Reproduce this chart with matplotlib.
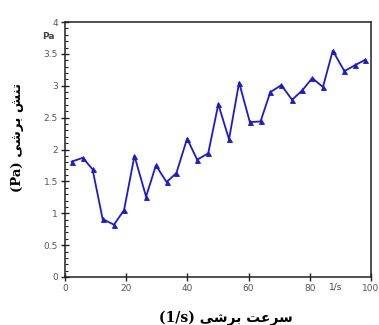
import matplotlib
matplotlib.use("Agg")
import matplotlib.pyplot as plt
from matplotlib.ticker import MultipleLocator

# Data
shear_rate = [2.2, 5.8, 9.0, 12.3, 16.0, 19.3, 22.7, 26.5, 29.7, 33.2, 36.4,
              39.9, 43.2, 46.8, 50.1, 53.6, 56.9, 60.4, 63.9, 67.1, 70.7,
              74.2, 77.6, 80.8, 84.3, 87.5, 91.3, 94.7, 98.2]
shear_stress = [1.81, 1.87, 1.69, 0.91, 0.82, 1.05, 1.90, 1.26, 1.75, 1.49, 1.63,
                2.17, 1.84, 1.94, 2.71, 2.16, 3.05, 2.43, 2.44, 2.90, 3.01,
                2.78, 2.93, 3.12, 2.98, 3.55, 3.23, 3.32, 3.41]
x_ticks = [0, 20, 40, 60, 80, 100]
x_tick_labels = ["0", "20", "40", "60", "80", "100"]
y_ticks = [0, 0.5, 1, 1.5, 2, 2.5, 3, 3.5, 4]
y_tick_labels = ["0", "0.5", "1", "1.5", "2", "2.5", "3", "3.5", "4"]

# Persian labels in presentation forms, visual (left-to-right) order
ylabel = "(Pa) " + "\uFEF0\uFEB7\uFEAE\uFE91" + " " + "\uFEB6\uFEE8\uFE97"   # تنش برشی (Pa)
xlabel = "(1/s) " + "\uFEF0\uFEB7\uFEAE\uFE91" + " " + "\uFE96\uFECB\uFEAE\uFEB3"  # سرعت برشی (1/s)

fig = plt.figure(figsize=(3.79, 3.25), dpi=100)
ax = fig.add_axes([65 / 379, 1 - 277 / 325, 306 / 379, 255 / 325])

ax.plot(shear_rate, shear_stress, color="#1a1ad0", lw=1.3, marker="^",
        markersize=3.6, markeredgewidth=0.6)

ax.set_xlim(0, 100)
ax.set_ylim(0, 4)
ax.set_xticks(x_ticks)
ax.set_xticklabels(x_tick_labels)
ax.set_yticks(y_ticks)
ax.set_yticklabels(y_tick_labels)
ax.yaxis.set_minor_locator(MultipleLocator(0.1))

for s in ax.spines.values():
    s.set_color("#222222")
    s.set_linewidth(1.1)

ax.tick_params(axis="both", which="major", direction="inout", length=6, width=1,
               labelsize=6.5, labelcolor="#555555", color="#222222", pad=2)
ax.tick_params(axis="y", which="minor", direction="in", length=2.5, width=0.8,
               color="#222222")

# unit markers as in the original
ax.text(-3.5, 3.77, "Pa", ha="right", va="center", fontsize=6.5,
        color="#444444", fontweight="bold")
ax.text(88.6, -0.155, "1/s", ha="center", va="center", fontsize=6.5,
        color="#444444")

fig.text(226 / 379, 1 - 318 / 325, xlabel, ha="center", va="center",
         fontsize=10, fontweight="bold", family=["DejaVu Serif", "DejaVu Sans"])
fig.text(18 / 379, 1 - 137 / 325, ylabel, ha="center", va="center",
         rotation=90, fontsize=9.5, fontweight="bold",
         family=["DejaVu Serif", "DejaVu Sans"])

fig.savefig("out.png", dpi=100)
